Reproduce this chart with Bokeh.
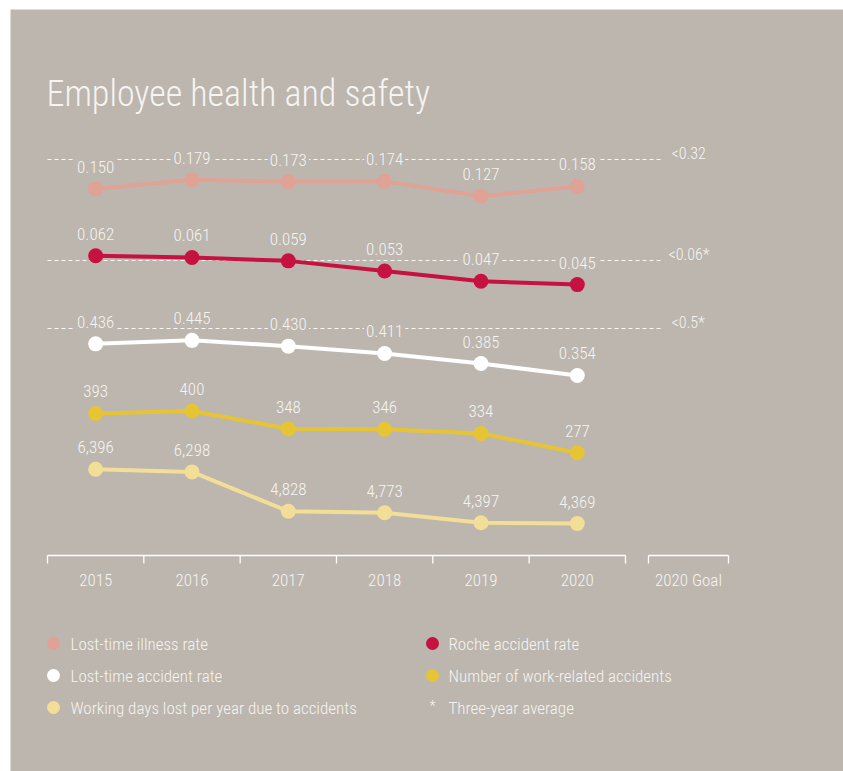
from bokeh.plotting import figure
from bokeh.models import Range1d
from bokeh.core.properties import value
from bokeh.embed import file_html
from bokeh.resources import INLINE

# ---------------- data ----------------
years = [2015, 2016, 2017, 2018, 2019, 2020]
year_labels = ["2015", "2016", "2017", "2018", "2019", "2020"]
goal_tick_label = "2020 Goal"

illness_rate = [0.150, 0.179, 0.173, 0.174, 0.127, 0.158]
roche_rate = [0.062, 0.061, 0.059, 0.053, 0.047, 0.045]
lost_time_accident_rate = [0.436, 0.445, 0.430, 0.411, 0.385, 0.354]
work_accidents = [393, 400, 348, 346, 334, 277]
days_lost = [6396, 6298, 4828, 4773, 4397, 4369]

goal_labels = ["<0.32", "<0.06*", "<0.5*"]
legend_left = ["Lost-time illness rate", "Lost-time accident rate",
               "Working days lost per year due to accidents"]
legend_right = ["Roche accident rate", "Number of work-related accidents",
                "Three-year average"]
title_text = "Employee health and safety"

# ---------------- style ----------------
BG = "#bcb6af"
TXT = "#f6f4f1"
FONT = value("Roboto Condensed Light, Roboto Condensed, Roboto, sans-serif")
C_ILL = "#e0a294"
C_ROCHE = "#c51240"
C_LTA = "#ffffff"
C_ACC = "#e6c434"
C_DAYS = "#f3de97"

W, H = 843, 771
OX, OY = 10, 9  # white strip at top/left, gray panel after it

# series: (name, values, color, fmt, px_center, px_per_unit, value_center)
series = [
    ("ill", illness_rate, C_ILL, "{:.3f}", 185.2, 315.0, 0.1602),
    ("roche", roche_rate, C_ROCHE, "{:.3f}", 268.0, 1695.0, 0.0545),
    ("lta", lost_time_accident_rate, C_LTA, "{:.3f}", 353.3, 386.0, 0.4102),
    ("acc", work_accidents, C_ACC, "{:,}", 427.6, 0.3388, 349.7),
    ("days", days_lost, C_DAYS, "{:,}", 501.4, 0.02674, 5176.8),
]

PX_PER_YEAR = 96.33
X_LEFT = 47  # page px of left axis edge (2014.5)
yr0 = years[0] - 0.5 - (X_LEFT - OX) / PX_PER_YEAR
yr1 = yr0 + (W - OX) / PX_PER_YEAR

extra_y = {}
for name, vals, col, fmt, yc, k, vc in series:
    extra_y[name] = Range1d(start=vc + (yc - H) / k, end=vc + (yc - OY) / k)

p = figure(width=W, height=H, output_backend="svg", toolbar_location=None,
           x_range=Range1d(OX, W), y_range=Range1d(H, OY),
           x_axis_type=None, y_axis_type=None,
           min_border_left=OX, min_border_top=OY, min_border_right=0, min_border_bottom=0,
           background_fill_color=BG, border_fill_color="#ffffff", outline_line_color=None)
p.grid.visible = False
p.extra_x_ranges = {"yr": Range1d(yr0, yr1)}
p.extra_y_ranges = extra_y

# title
p.text(x=[X_LEFT - 1], y=[93], text=[title_text], text_font=FONT, text_font_size="36px",
       text_color=TXT, text_baseline="middle", text_align="left")

# goal dashed lines (layout positions)
goal_y = [159, 260, 328]
p.segment(x0=[X_LEFT] * 3, x1=[663] * 3, y0=goal_y, y1=goal_y,
          line_color="#ffffff", line_width=1, line_dash="4 3", line_alpha=0.9)
p.text(x=[671, 668, 671], y=goal_y, text=goal_labels, text_font=FONT,
       text_font_size="16px", text_color=TXT, text_baseline="middle",
       text_align="left", y_offset=-6)

# series
for name, vals, col, fmt, yc, k, vc in series:
    p.line(years, vals, line_color=col, line_width=4, x_range_name="yr", y_range_name=name)
    p.scatter(years, vals, size=15, fill_color=col, line_color=None,
              x_range_name="yr", y_range_name=name)
for name, vals, col, fmt, yc, k, vc in series:
    p.text(x=years, y=vals, text=[fmt.format(v) for v in vals], x_range_name="yr",
           y_range_name=name, y_offset=-22, text_font=FONT, text_font_size="17px",
           text_color=TXT, text_align="center", text_baseline="middle",
           background_fill_color=BG, padding=2)

# x axis (years)
AX_Y = 555
bounds = [y - 0.5 for y in years] + [years[-1] + 0.5]
p.segment(x0=[bounds[0]], x1=[bounds[-1]], y0=[AX_Y], y1=[AX_Y], line_color="#ffffff",
          line_width=1.3, x_range_name="yr")
p.segment(x0=bounds, x1=bounds, y0=[AX_Y] * len(bounds), y1=[AX_Y + 8] * len(bounds),
          line_color="#ffffff", line_width=1.3, x_range_name="yr")
p.text(x=years, y=[579] * len(years), text=year_labels, x_range_name="yr",
       text_font=FONT, text_font_size="17px", text_color=TXT,
       text_align="center", text_baseline="middle")
# goal column axis
p.segment(x0=[648], x1=[728], y0=[AX_Y], y1=[AX_Y], line_color="#ffffff", line_width=1.3)
p.segment(x0=[648, 728], x1=[648, 728], y0=[AX_Y, AX_Y], y1=[AX_Y + 8, AX_Y + 8],
          line_color="#ffffff", line_width=1.3)
p.text(x=[688], y=[579], text=[goal_tick_label], text_font=FONT, text_font_size="17px",
       text_color=TXT, text_align="center", text_baseline="middle")

# legend
rows = [643, 675, 707]
p.scatter(x=[53] * 3, y=rows, size=13, fill_color=[C_ILL, C_LTA, C_DAYS], line_color=None)
p.text(x=[70] * 3, y=rows, text=legend_left, text_font=FONT, text_font_size="17px",
       text_color=TXT, text_align="left", text_baseline="middle")
p.scatter(x=[432] * 2, y=rows[:2], size=13, fill_color=[C_ROCHE, C_ACC], line_color=None)
p.text(x=[432], y=[rows[2]], text=["*"], text_font=FONT, text_font_size="14px",
       text_color=TXT, text_align="center", text_baseline="middle", y_offset=-2)
p.text(x=[448] * 3, y=rows, text=legend_right, text_font=FONT, text_font_size="17px",
       text_color=TXT, text_align="left", text_baseline="middle")

open("out.html", "w").write(file_html(p, INLINE))
